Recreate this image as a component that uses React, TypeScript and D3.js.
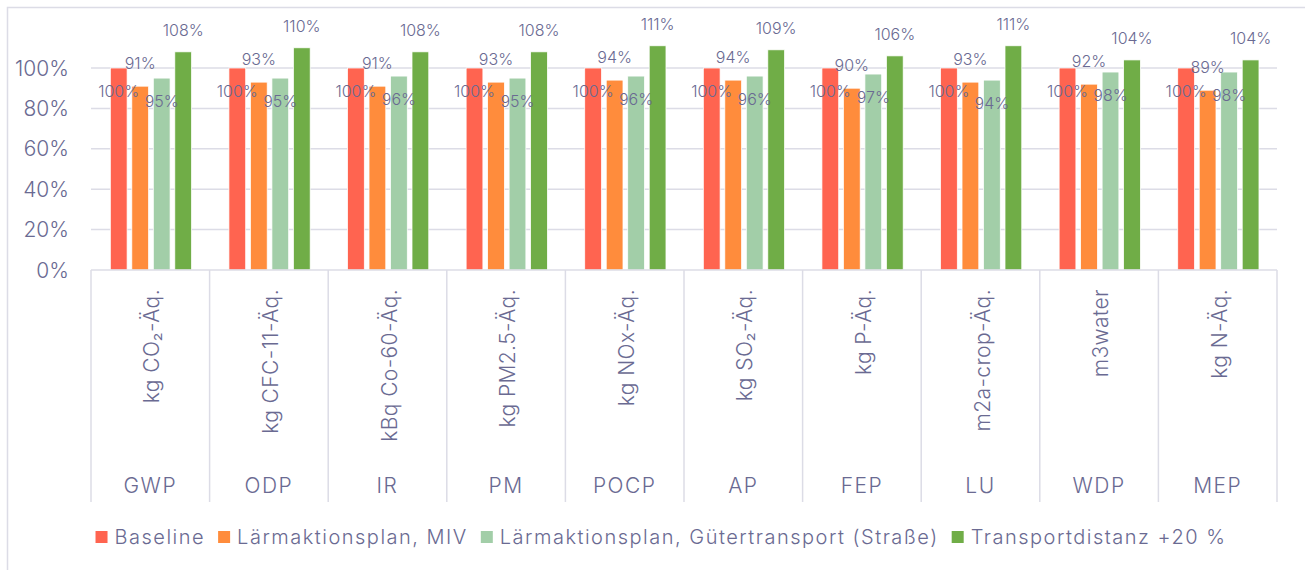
import { useEffect, useRef } from 'react'
import * as d3 from 'd3'

const categories = ['GWP', 'ODP', 'IR', 'PM', 'POCP', 'AP', 'FEP', 'LU', 'WDP', 'MEP']
const units = [
  'kg CO₂-Äq.',
  'kg CFC-11-Äq.',
  'kBq Co-60-Äq.',
  'kg PM2.5-Äq.',
  'kg NOx-Äq.',
  'kg SO₂-Äq.',
  'kg P-Äq.',
  'm2a-crop-Äq.',
  'm3water',
  'kg N-Äq.',
]
const seriesNames = [
  'Baseline',
  'Lärmaktionsplan, MIV',
  'Lärmaktionsplan, Gütertransport (Straße)',
  'Transportdistanz +20 %',
]
const baseline = [100, 100, 100, 100, 100, 100, 100, 100, 100, 100]
const miv = [91, 93, 91, 93, 94, 94, 90, 93, 92, 89]
const gueter = [95, 95, 96, 95, 96, 96, 97, 94, 98, 98]
const distanz = [108, 110, 108, 108, 111, 109, 106, 111, 104, 104]
const yTicks = [0, 20, 40, 60, 80, 100]

const colors = ['#ff6450', '#ff8c3c', '#a2cea8', '#70ad47']
const gridColor = '#dcdce6'
const textColor = '#6a6a92'
const font = "Inter, 'Open Sans', sans-serif"

export default function App() {
  const svgRef = useRef<SVGSVGElement>(null)

  useEffect(() => {
    const W = 1305
    const H = 570
    const svg = d3.select(svgRef.current)
    svg.selectAll('*').remove()
    svg.attr('width', W).attr('height', H)

    svg.append('rect').attr('width', W).attr('height', H).attr('fill', '#fff')
    // chart frame (cut off on the right and bottom)
    svg.append('rect')
      .attr('x', 7.5)
      .attr('y', 7.5)
      .attr('width', 1330)
      .attr('height', 620)
      .attr('fill', 'none')
      .attr('stroke', gridColor)
      .attr('stroke-width', 1.5)

    const series = [baseline, miv, gueter, distanz]

    const x = d3.scaleBand<string>().domain(categories).range([91, 1277])
    const y = d3.scaleLinear().domain([0, 100]).range([270, 68])
    const bw = x.bandwidth()
    const xs = d3
      .scaleBand<string>()
      .domain(seriesNames)
      .range([bw * 0.163, bw * 0.848])
      .paddingInner(0.22)

    // Grid lines
    svg.selectAll('.grid')
      .data(yTicks.filter((d) => d > 0))
      .enter()
      .append('line')
      .attr('x1', 91)
      .attr('x2', 1277)
      .attr('y1', (d) => y(d))
      .attr('y2', (d) => y(d))
      .attr('stroke', gridColor)
      .attr('stroke-width', 1.5)

    // Y labels
    svg.selectAll('.ytick')
      .data(yTicks)
      .enter()
      .append('text')
      .attr('x', 69)
      .attr('y', (d) => y(d))
      .attr('text-anchor', 'end')
      .attr('dominant-baseline', 'central')
      .attr('fill', textColor)
      .style('font-family', font)
      .style('font-weight', 300)
      .style('font-size', '21px')
      .text((d) => `${d}%`)

    // Bars
    series.forEach((vals, i) => {
      svg.selectAll(`.bar-${i}`)
        .data(vals)
        .enter()
        .append('rect')
        .attr('x', (_, j) => x(categories[j])! + xs(seriesNames[i])!)
        .attr('y', (d) => y(d))
        .attr('width', xs.bandwidth())
        .attr('height', (d) => y(0) - y(d))
        .attr('fill', colors[i])
        .attr('stroke', '#fff')
        .attr('stroke-width', 0.75)
    })

    // Data labels
    const offsets = [23, -23, 23, -22]
    series.forEach((vals, i) => {
      svg.selectAll(`.lbl-${i}`)
        .data(vals)
        .enter()
        .append('text')
        .attr('x', (_, j) => x(categories[j])! + xs(seriesNames[i])! + xs.bandwidth() / 2)
        .attr('y', (d) => y(d) + offsets[i])
        .attr('text-anchor', 'middle')
        .attr('dominant-baseline', 'central')
        .attr('fill', textColor)
        .style('font-family', font)
        .style('font-weight', 300)
        .style('font-size', '16px')
        .text((d) => `${d}%`)
    })

    // Category axis
    svg.append('line')
      .attr('x1', 91)
      .attr('x2', 1277)
      .attr('y1', y(0))
      .attr('y2', y(0))
      .attr('stroke', gridColor)
      .attr('stroke-width', 1.5)

    const bounds = categories.map((c) => x(c)!).concat(x.range()[1])
    svg.selectAll('.sep')
      .data(bounds)
      .enter()
      .append('line')
      .attr('x1', (d) => d)
      .attr('x2', (d) => d)
      .attr('y1', y(0))
      .attr('y2', 502)
      .attr('stroke', gridColor)
      .attr('stroke-width', 1.5)

    svg.selectAll('.unit')
      .data(units)
      .enter()
      .append('text')
      .attr('transform', (_, j) => `translate(${x(categories[j])! + bw / 2 + 9},289) rotate(-90)`)
      .attr('text-anchor', 'end')
      .attr('fill', textColor)
      .style('font-family', font)
      .style('font-weight', 300)
      .style('font-size', '21px')
      .style('letter-spacing', '0.4px')
      .text((d) => d)

    svg.selectAll('.cat')
      .data(categories)
      .enter()
      .append('text')
      .attr('x', (d) => x(d)! + bw / 2)
      .attr('y', 493)
      .attr('text-anchor', 'middle')
      .attr('fill', textColor)
      .style('font-family', font)
      .style('font-weight', 300)
      .style('font-size', '21px')
      .style('letter-spacing', '1.5px')
      .text((d) => d)

    // Legend, centred on the chart area
    const legend = svg.append('g')
    const items = seriesNames.map((name, i) => {
      const item = legend.append('g')
      item.append('rect')
        .attr('y', 531)
        .attr('width', 12)
        .attr('height', 12)
        .attr('fill', colors[i])
      const t = item.append('text')
        .attr('x', 19)
        .attr('y', 537)
        .attr('dominant-baseline', 'central')
        .attr('fill', textColor)
        .style('font-family', font)
        .style('font-weight', 300)
        .style('font-size', '20px')
        .style('letter-spacing', '1.5px')
        .text(name)
      const w = (t.node() as SVGTextElement).getComputedTextLength()
      return { item, w: 19 + w }
    })
    const gap = 13
    const total = d3.sum(items, (d) => d.w) + gap * (items.length - 1)
    let cx = 661 - total / 2
    items.forEach((d) => {
      d.item.attr('transform', `translate(${cx},0)`)
      cx += d.w + gap
    })
  }, [])

  return (
    <svg ref={svgRef} style={{ position: 'absolute', left: 0, top: 0 }} />
  )
}
